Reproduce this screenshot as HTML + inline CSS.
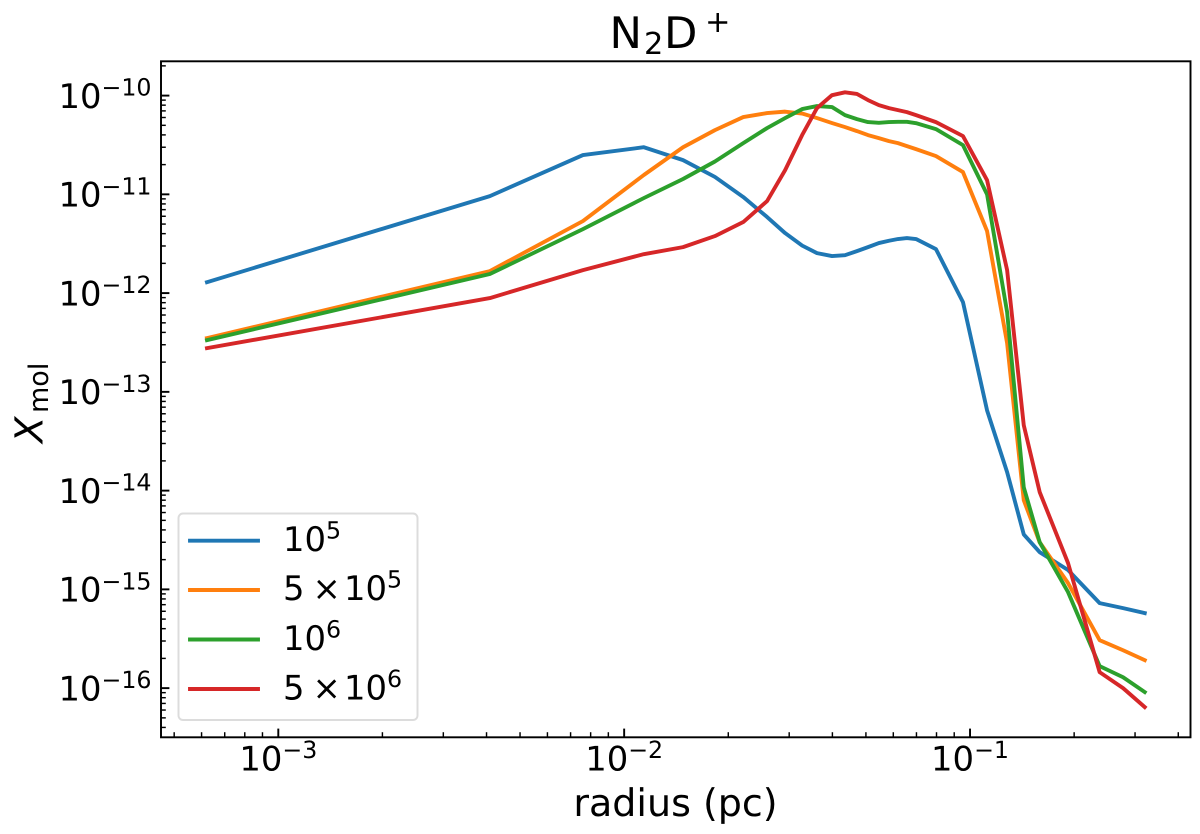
<!DOCTYPE html>
<html lang="en">
<head>
<meta charset="utf-8">
<title>N2D+ abundance vs radius</title>
<style>
html,body{margin:0;padding:0;background:#fff;}
svg{display:block;filter:blur(0.35px);}
text{font-family:"DejaVu Sans","Liberation Sans",sans-serif;fill:#000;text-rendering:geometricPrecision;}
</style>
</head>
<body>
<svg id="chart" xmlns="http://www.w3.org/2000/svg" width="1200" height="834" viewBox="0 0 1200 834">
  <rect x="0" y="0" width="1200" height="834" fill="#fff"/>

  <g id="series-layer"></g>
  <g id="tick-layer"></g>
  <rect x="161" y="61.3" width="1029.5" height="676" fill="none" stroke="#000" stroke-width="1.93"/>

  <g>
    <text x="609.5" y="48" font-size="43.4">N</text>
    <text x="644" y="54" font-size="30.4">2</text>
    <text x="664" y="48" font-size="43.4">D</text>
    <text x="705" y="32" font-size="30.4">+</text>
  </g>

  <text x="675.5" y="816" font-size="38" text-anchor="middle">radius (pc)</text>

  <g transform="translate(42.5,443) rotate(-90)">
    <text x="0" y="0" font-size="38.6" font-style="italic">X</text>
    <text x="30" y="5.5" font-size="27">mol</text>
  </g>

  <g>
    <rect x="178.5" y="513.5" width="239" height="206.5" rx="4.5" ry="4.5" fill="#fff" fill-opacity="0.8" stroke="#dcdcdc" stroke-width="1.93"/>
    <g>
      <line x1="190" y1="540.7" x2="258" y2="540.7" stroke="#1f77b4" stroke-width="3.9" stroke-linecap="square"/>
      <text x="283" y="551" font-size="33.8">10<tspan font-size="23.7" dy="-12.3">5</tspan></text>
    </g>
    <g>
      <line x1="190" y1="590" x2="258" y2="590" stroke="#ff7f0e" stroke-width="3.9" stroke-linecap="square"/>
      <text x="283" y="600" font-size="33.8">5</text>
      <text x="312.5" y="600" font-size="33.8">×</text>
      <text x="344" y="600" font-size="33.8">10<tspan font-size="23.7" dy="-12.3">5</tspan></text>
    </g>
    <g>
      <line x1="190" y1="639.5" x2="258" y2="639.5" stroke="#2ca02c" stroke-width="3.9" stroke-linecap="square"/>
      <text x="283" y="650" font-size="33.8">10<tspan font-size="23.7" dy="-12.3">6</tspan></text>
    </g>
    <g>
      <line x1="190" y1="689" x2="258" y2="689" stroke="#d62728" stroke-width="3.9" stroke-linecap="square"/>
      <text x="283" y="699.5" font-size="33.8">5</text>
      <text x="312.5" y="699.5" font-size="33.8">×</text>
      <text x="344" y="699.5" font-size="33.8">10<tspan font-size="23.7" dy="-12.3">6</tspan></text>
    </g>
  </g>
</svg>

<script>
var radius = [6.22e-4,4.09e-3,7.6e-3,1.14e-2,1.48e-2,1.83e-2,2.21e-2,2.59e-2,2.92e-2,3.27e-2,3.61e-2,3.99e-2,4.35e-2,4.71e-2,5.07e-2,5.45e-2,5.83e-2,6.19e-2,6.57e-2,6.98e-2,7.97e-2,9.54e-2,1.12e-1,1.28e-1,1.43e-1,1.59e-1,1.92e-1,2.37e-1,2.77e-1,3.2e-1];
var density1e5 = [1.29e-12,9.6e-12,2.5e-11,3.0e-11,2.22e-11,1.5e-11,9.39e-12,5.89e-12,4.05e-12,3.03e-12,2.54e-12,2.37e-12,2.42e-12,2.66e-12,2.92e-12,3.21e-12,3.39e-12,3.53e-12,3.61e-12,3.53e-12,2.79e-12,8.11e-13,6.5e-14,1.54e-14,3.6e-15,2.38e-15,1.57e-15,7.26e-16,6.46e-16,5.75e-16];
var density5e5 = [3.5e-13,1.67e-12,5.36e-12,1.57e-11,3.0e-11,4.47e-11,6.06e-11,6.65e-11,6.88e-11,6.58e-11,5.92e-11,5.27e-11,4.8e-11,4.37e-11,3.98e-11,3.71e-11,3.46e-11,3.3e-11,3.08e-11,2.87e-11,2.44e-11,1.68e-11,4.25e-12,3.12e-13,8.0e-15,3.0e-15,1.16e-15,3.06e-16,2.42e-16,1.92e-16];
var density1e6 = [3.34e-13,1.56e-12,4.45e-12,9.17e-12,1.43e-11,2.15e-11,3.3e-11,4.69e-11,5.92e-11,7.3e-11,7.83e-11,7.65e-11,6.34e-11,5.78e-11,5.39e-11,5.3e-11,5.39e-11,5.42e-11,5.42e-11,5.26e-11,4.58e-11,3.15e-11,1.0e-11,6.43e-13,1.08e-14,3.0e-15,9.39e-16,1.67e-16,1.29e-16,9.12e-17];
var density5e6 = [2.77e-13,8.9e-13,1.71e-12,2.48e-12,2.92e-12,3.78e-12,5.24e-12,8.55e-12,1.76e-11,3.98e-11,7.47e-11,1.01e-10,1.08e-10,1.04e-10,9.0e-11,8.0e-11,7.47e-11,7.13e-11,6.8e-11,6.34e-11,5.39e-11,3.89e-11,1.39e-11,1.71e-12,4.6e-14,9.66e-15,1.85e-15,1.45e-16,1e-16,6.43e-17];
var seriesLabels = ['1e5','5e5','1e6','5e6'];
var xTickExponents = [-3,-2,-1];
var yTickExponents = [-10,-11,-12,-13,-14,-15,-16];
var xLimits = [4.58e-4,0.4325];
var yLimits = [3.2e-17,2.24e-10];

var SVG_NS = 'http://www.w3.org/2000/svg';
var plotLeft = 161, plotRight = 1190, plotTop = 61, plotBottom = 737;
var seriesColors = ['#1f77b4','#ff7f0e','#2ca02c','#d62728'];

function xScale(v){
  var a = Math.log10(xLimits[0]), b = Math.log10(xLimits[1]);
  return plotLeft + (Math.log10(v) - a) / (b - a) * (plotRight - plotLeft);
}
function yScale(v){
  var a = Math.log10(yLimits[0]), b = Math.log10(yLimits[1]);
  return plotBottom - (Math.log10(v) - a) / (b - a) * (plotBottom - plotTop);
}
function makeTick(parent, x1, y1, x2, y2, width){
  var el = document.createElementNS(SVG_NS, 'line');
  el.setAttribute('x1', x1.toFixed(2));
  el.setAttribute('y1', y1.toFixed(2));
  el.setAttribute('x2', x2.toFixed(2));
  el.setAttribute('y2', y2.toFixed(2));
  el.setAttribute('stroke', '#000');
  el.setAttribute('stroke-width', width);
  
  
  parent.appendChild(el);
}
function makeTickLabel(parent, x, y, anchor, exponent, name){
  var el = document.createElementNS(SVG_NS, 'text');
  el.setAttribute('x', x.toFixed(2));
  el.setAttribute('y', y.toFixed(2));
  el.setAttribute('font-size', '33.8');
  el.setAttribute('text-anchor', anchor);
  
  
  el.appendChild(document.createTextNode('10'));
  var sup = document.createElementNS(SVG_NS, 'tspan');
  sup.setAttribute('font-size', '23.7');
  sup.setAttribute('dy', '-12.3');
  sup.textContent = '\u2212' + Math.abs(exponent);
  el.appendChild(sup);
  parent.appendChild(el);
}

var tickLayer = document.getElementById('tick-layer');
var seriesLayer = document.getElementById('series-layer');

[density1e5, density5e5, density1e6, density5e6].forEach(function(values, i){
  var pts = values.map(function(v, j){
    return xScale(radius[j]).toFixed(2) + ',' + yScale(v).toFixed(2);
  }).join(' ');
  var line = document.createElementNS(SVG_NS, 'polyline');
  line.setAttribute('points', pts);
  line.setAttribute('fill', 'none');
  line.setAttribute('stroke', seriesColors[i]);
  line.setAttribute('stroke-width', '3.9');
  line.setAttribute('stroke-linejoin', 'round');
  line.setAttribute('stroke-linecap', 'square');
  
  
  seriesLayer.appendChild(line);
});

for (var xe = -4; xe <= 0; xe++){
  for (var xm = 1; xm <= 9; xm++){
    var xv = xm * Math.pow(10, xe);
    if (xv < xLimits[0] || xv > xLimits[1]) continue;
    var xMajor = xm === 1;
    makeTick(tickLayer, xScale(xv), plotBottom, xScale(xv), plotBottom - (xMajor ? 8.4 : 4.8), xMajor ? 1.93 : 1.45);
  }
}
for (var ye = -18; ye <= -9; ye++){
  for (var ym = 1; ym <= 9; ym++){
    var yv = ym * Math.pow(10, ye);
    if (yv < yLimits[0] || yv > yLimits[1]) continue;
    var yMajor = ym === 1;
    makeTick(tickLayer, plotLeft, yScale(yv), plotLeft + (yMajor ? 8.4 : 4.8), yScale(yv), yMajor ? 1.93 : 1.45);
  }
}
xTickExponents.forEach(function(e){
  makeTickLabel(tickLayer, xScale(Math.pow(10, e)), 770.5, 'middle', e, 'x-tick-label');
});
yTickExponents.forEach(function(e){
  makeTickLabel(tickLayer, 58.5, yScale(Math.pow(10, e)) + 12.3, 'start', e, 'y-tick-label');
});
</script>
</body>
</html>
